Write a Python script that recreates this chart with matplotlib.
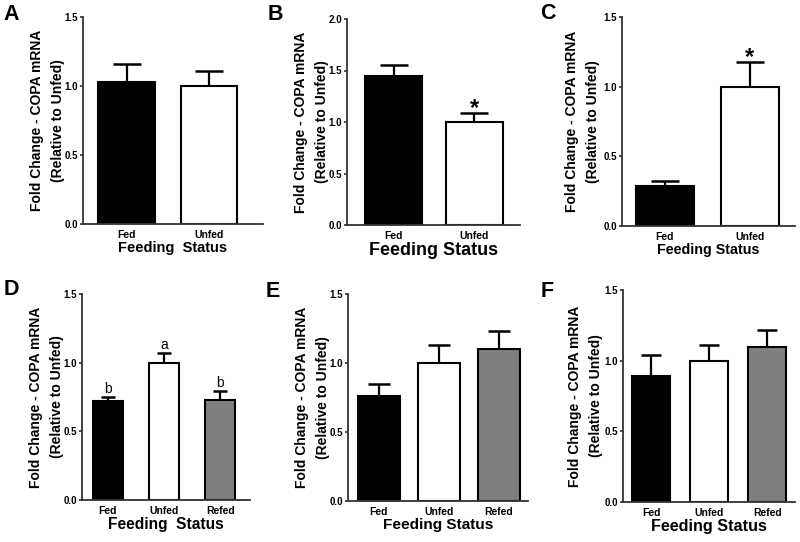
import matplotlib
matplotlib.use("Agg")
import matplotlib.pyplot as plt
import numpy as np

matplotlib.rcParams['font.family'] = ['Liberation Sans', 'DejaVu Sans']
matplotlib.rcParams['font.weight'] = 'bold'
matplotlib.rcParams['axes.labelweight'] = 'bold'

W, H = 800, 542

groups2 = ["Fed", "Unfed"]
groups3 = ["Fed", "Unfed", "Refed"]

a_mean = [1.03, 1.00]
a_err = [0.13, 0.11]
b_mean = [1.45, 1.00]
b_err = [0.10, 0.09]
c_mean = [0.29, 1.00]
c_err = [0.03, 0.18]
d_mean = [0.72, 1.00, 0.73]
d_err = [0.03, 0.07, 0.065]
e_mean = [0.76, 1.00, 1.10]
e_err = [0.09, 0.13, 0.13]
f_mean = [0.89, 1.00, 1.10]
f_err = [0.15, 0.11, 0.12]

b_marks = ["", "*"]
c_marks = ["", "*"]
d_marks = ["b", "a", "b"]

COLORS = ["black", "white", "#7f7f7f"]

# letter, cats, mean, err, marks, pixel box (l, r, t, b), xlim, bar width, ymax,
# xlabel, xlabel size, ylabel gap (px), letter pos (center x, baseline y)
panels = [
    ("A", groups2, a_mean, a_err, None, (83, 263, 17, 224), (-0.527, 1.65), 0.68, 1.5,
     "Feeding  Status", 10.5, 18, (11, 20)),
    ("B", groups2, b_mean, b_err, b_marks, (347, 520, 19, 225), (-0.578, 1.57), 0.71, 2.0,
     "Feeding Status", 13, 18, (275, 20)),
    ("C", groups2, c_mean, c_err, c_marks, (622, 795, 17, 226), (-0.506, 1.53), 0.68, 1.5,
     "Feeding Status", 10.3, 22, (548, 19)),
    ("D", groups3, d_mean, d_err, d_marks, (82, 250, 294, 500), (-0.46, 2.53), 0.53, 1.5,
     "Feeding  Status", 11.2, 18, (11, 295)),
    ("E", groups3, e_mean, e_err, None, (348, 528, 294, 501), (-0.51, 2.48), 0.70, 1.5,
     "Feeding Status", 11.1, 18, (273, 297)),
    ("F", groups3, f_mean, f_err, None, (623, 795, 290, 502), (-0.49, 2.48), 0.66, 1.5,
     "Feeding Status", 11.6, 20, (547, 297)),
]

fig = plt.figure(figsize=(W / 100, H / 100), dpi=100)

for (letter, cats, mean, err, marks, box, xlim, bw, ymax,
     xlab, xlab_fs, ygap, lpos) in panels:
    l, r, t, b = box
    ax = fig.add_axes([l / W, 1 - b / H, (r - l) / W, (b - t) / H])
    x = np.arange(len(cats))
    ax.bar(x, mean, bw, color=COLORS[:len(cats)], edgecolor="black", linewidth=1.5, zorder=2)
    # cap half-length ~ quarter of bar width
    px_per_unit = (r - l) / (xlim[1] - xlim[0])
    capsize = bw * px_per_unit / 4 * 0.72
    ax.errorbar(x, mean, yerr=[np.zeros(len(mean)), err], fmt="none", ecolor="black",
                elinewidth=1.6, capsize=capsize, capthick=1.8, zorder=1)
    if marks:
        for xi, m, e, mk in zip(x, mean, err, marks):
            if mk == "*":
                ax.text(xi, m + e - ymax * 0.035, mk, ha="center", va="bottom", fontsize=17,
                        fontweight="bold")
            elif mk:
                ax.text(xi, m + e + ymax * 0.003, mk, ha="center", va="bottom", fontsize=10,
                        fontweight="normal")
    ax.set_xlim(*xlim)
    ax.set_ylim(0, ymax)
    ticks = np.arange(0, ymax + 0.01, 0.5)
    ax.set_yticks(ticks)
    ax.set_yticklabels([f"{v:.1f}" for v in ticks], fontsize=7, fontweight="bold")
    ax.set_xticks(x)
    ax.set_xticklabels(cats, fontsize=7.5, fontweight="bold")
    ax.tick_params(axis="x", length=0, pad=4)
    ax.tick_params(axis="y", length=2.5, width=1.2, pad=1, color="#333333")
    for s in ["top", "right"]:
        ax.spines[s].set_visible(False)
    for s in ["left", "bottom"]:
        ax.spines[s].set_linewidth(1.3)
        ax.spines[s].set_color("#333333")
    ax.set_xlabel(xlab, fontsize=xlab_fs, fontweight="bold", labelpad=1)
    ax.set_ylabel("Fold Change - COPA mRNA\n(Relative to Unfed)", fontsize=10,
                  fontweight="bold", linespacing=1.6)
    ax.yaxis.set_label_coords(-ygap / (r - l), 0.5)
    fig.text(lpos[0] / W, 1 - lpos[1] / H, letter, fontsize=15.5, fontweight="bold",
             ha="center", va="baseline")

fig.savefig("out.png", dpi=100, facecolor="white")
